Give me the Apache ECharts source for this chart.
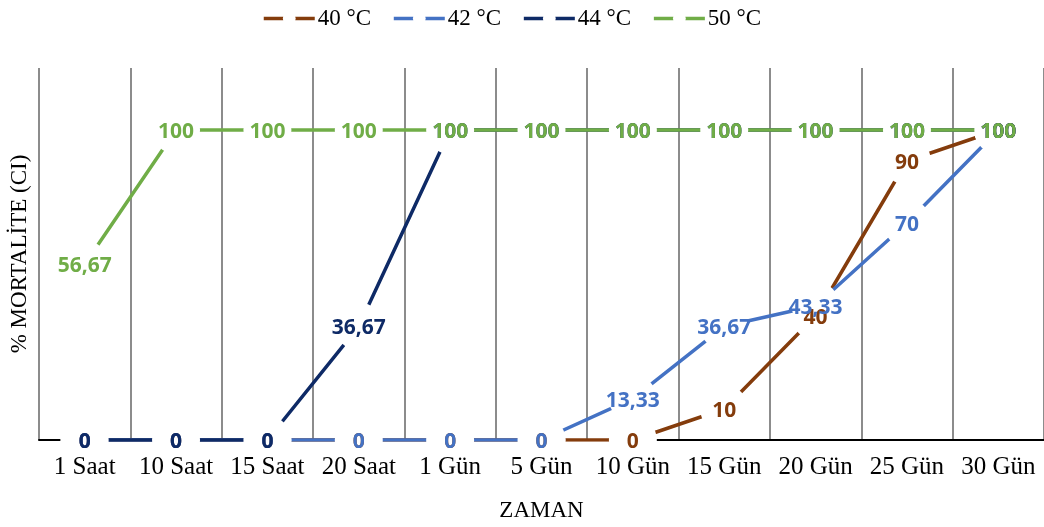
<!DOCTYPE html>
<html><head><meta charset="utf-8">
<script src="https://cdn.jsdelivr.net/npm/echarts@6/dist/echarts.min.js"></script>
<style>html,body{margin:0;padding:0;background:#fff}#c{width:1044px;height:527px}</style>
</head><body><div id="c"></div>
<script>
const categories = ['1 Saat','10 Saat','15 Saat','20 Saat','1 Gün','5 Gün','10 Gün','15 Gün','20 Gün','25 Gün','30 Gün'];
const seriesNames = ['40 °C','42 °C','44 °C','50 °C'];
const values40 = [0,0,0,0,0,0,0,10,40,90,100];
const values42 = [0,0,0,0,0,0,13.33,36.67,43.33,70,100];
const values44 = [0,0,0,36.67,100,100,100,100,100,100,100];
const values50 = [56.67,100,100,100,100,100,100,100,100,100,100];
const allValues = [values40, values42, values44, values50];
const colors = ['#843C0C','#4472C4','#0E2A66','#70AD47'];

const serif = 'Liberation Serif';
const fmt = p => String(Array.isArray(p.value) ? p.value[1] : p.value).replace('.', ',');

const series = [];
allValues.forEach((vals, i) => {
  series.push({
    type: 'line', name: seriesNames[i], data: vals, z: 2 + i, xAxisIndex: 0,
    symbol: 'circle', symbolSize: 48, showSymbol: true,
    itemStyle: { color: '#fff', borderWidth: 0, opacity: 1 },
    lineStyle: { color: colors[i], width: 3.5 },
    label: { show: false },
    emphasis: { disabled: true }, silent: true
  });
});
allValues.forEach((vals, i) => {
  series.push({
    type: 'scatter', name: 'lbl' + i, data: vals, z: 20 + i, xAxisIndex: 0,
    symbol: 'circle', symbolSize: 1,
    itemStyle: { color: '#fff', opacity: 1 },
    label: { show: true, position: 'inside', offset: [0, 2], color: colors[i], opacity: 1, fontFamily: 'Open Sans',
      fontWeight: 'bold', fontSize: 21, formatter: fmt },
    emphasis: { disabled: true }, silent: true
  });
});

const chart = echarts.init(document.getElementById('c'), null, { renderer: 'canvas' });
chart.setOption({
  animation: false,
  backgroundColor: '#fff',
  legend: {
    data: seriesNames, top: 2, left: 257,
    itemWidth: 51, itemHeight: 16, itemGap: 21,
    lineStyle: { width: 3.5 }, itemStyle: { borderWidth: 0 },
    textStyle: { fontFamily: serif, fontSize: 23, color: '#000', padding: [0, 0, 0, -2] }
  },
  grid: { left: 37, right: -4, top: 68, bottom: 86, containLabel: false },
  xAxis: [{
    type: 'category', data: categories, boundaryGap: true, position: 'bottom', z: 0,
    axisLine: { lineStyle: { color: '#000', width: 2 } },
    axisTick: { show: false },
    splitLine: { show: true, interval: 0, lineStyle: { color: '#8c8c8c', width: 2 } },
    axisLabel: { show: false }
  }, {
    type: 'category', data: categories, boundaryGap: true, position: 'bottom', z: 50,
    axisLine: { show: false }, axisTick: { show: false }, splitLine: { show: false },
    axisLabel: { interval: 0, fontFamily: serif, fontSize: 25, color: '#000', margin: 15 },
    name: 'ZAMAN', nameLocation: 'middle', nameGap: 59,
    nameTextStyle: { fontFamily: serif, fontSize: 23, color: '#000' }
  }],
  yAxis: {
    type: 'value', min: 0, max: 120,
    axisLine: { show: false }, axisTick: { show: false },
    splitLine: { show: false }, axisLabel: { show: false },
    name: '% MORTALİTE (CI)', nameLocation: 'middle', nameGap: 8,
    nameTextStyle: { fontFamily: serif, fontSize: 23, color: '#000' }
  },
  series: series
});
</script></body></html>
